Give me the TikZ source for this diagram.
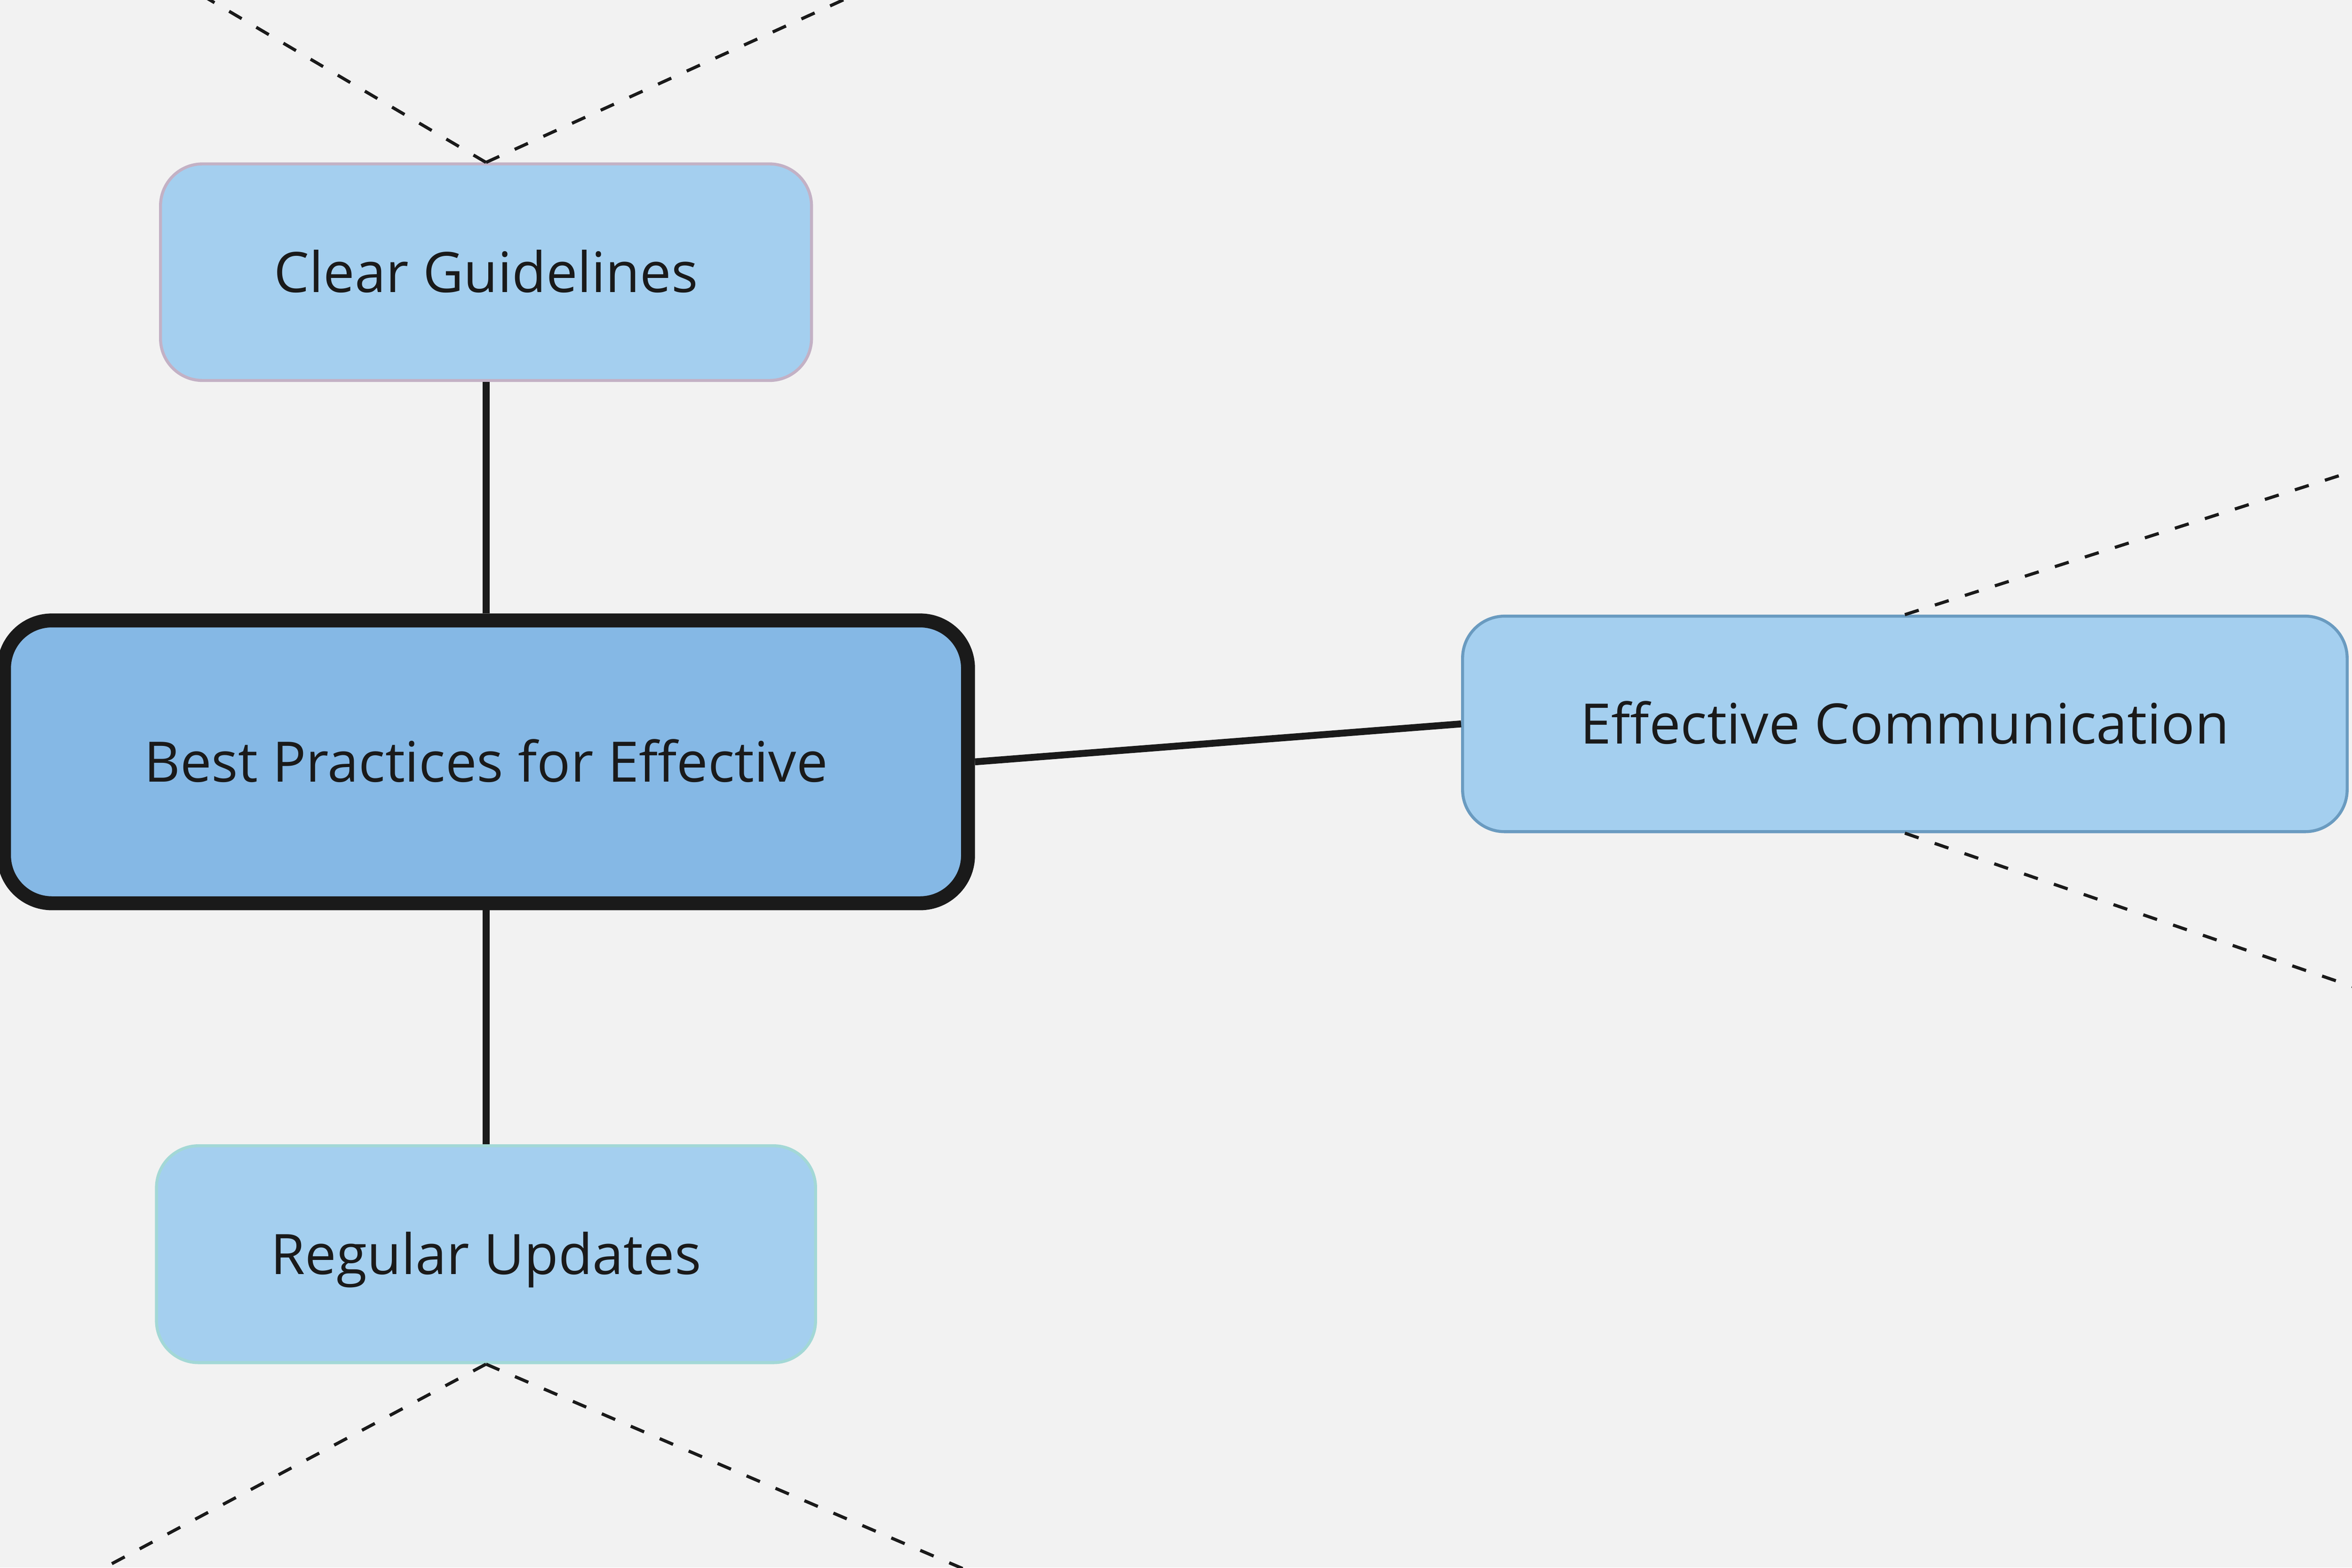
\documentclass[tikz,border=0pt]{standalone}
\usepackage{fontspec}
\setmainfont{Open Sans}
\definecolor{bg}{HTML}{F2F2F2}
\definecolor{txt}{HTML}{1A1A1A}
\definecolor{boxfill}{HTML}{A4CFEF}
\definecolor{cfill}{HTML}{85B8E5}
\definecolor{cgborder}{HTML}{C3B1C5}
\definecolor{ecborder}{HTML}{6A9BC0}
\definecolor{ruborder}{HTML}{A3D8D6}
\begin{document}
\begin{tikzpicture}[x=1pt,y=-1pt,
  boxbase/.style={rectangle, text=txt, font=\fontsize{37.2}{45}\selectfont,
    text height=26.6pt, text depth=0pt, inner sep=0pt, align=center},
  childbox/.style={boxbase, rounded corners=28pt, fill=boxfill, line width=2pt},
  centralbox/.style={boxbase, rounded corners=32pt, fill=cfill, draw=txt, line width=9.3pt},
  link/.style={draw=txt, line width=4.6pt},
  sublink/.style={draw=txt, line width=2.1pt, dash pattern=on 9.7pt off 11.3pt}]
\useasboundingbox[fill=bg] (0,0) rectangle (1568,1045.33);

\node[centralbox, minimum width=642.7pt, minimum height=188.6pt] (c) at (324,508) {Best Practices for Effective};
\node[childbox, draw=cgborder, minimum width=434pt, minimum height=144.4pt] (cg) at (324,181.5) {Clear Guidelines};
\node[childbox, draw=ecborder, minimum width=589.7pt, minimum height=143.7pt] (ec) at (1269.9,482.7) {Effective Communication};
\node[childbox, draw=ruborder, minimum width=439.4pt, minimum height=144.6pt] (ru) at (324,836.3) {Regular Updates};

\path[link] (cg.south) -- (c.north);
\path[link] (c.south) -- (ru.north);
\path[link] (c.east) -- (ec.west);

\coordinate (cg1) at (121.6,-10.8);
\coordinate (cg2) at (585.8,-10.8);
\coordinate (ec1) at (1590,307.4);
\coordinate (ec2) at (1590,665.2);
\coordinate (ru1) at (25.2,1069);
\coordinate (ru2) at (703.6,1072.4);

\path[sublink] (cg.north) -- (cg1);
\path[sublink] (cg.north) -- (cg2);
\path[sublink] (ec.north) -- (ec1);
\path[sublink] (ec.south) -- (ec2);
\path[sublink] (ru.south) -- (ru1);
\path[sublink] (ru.south) -- (ru2);
\end{tikzpicture}
\end{document}
